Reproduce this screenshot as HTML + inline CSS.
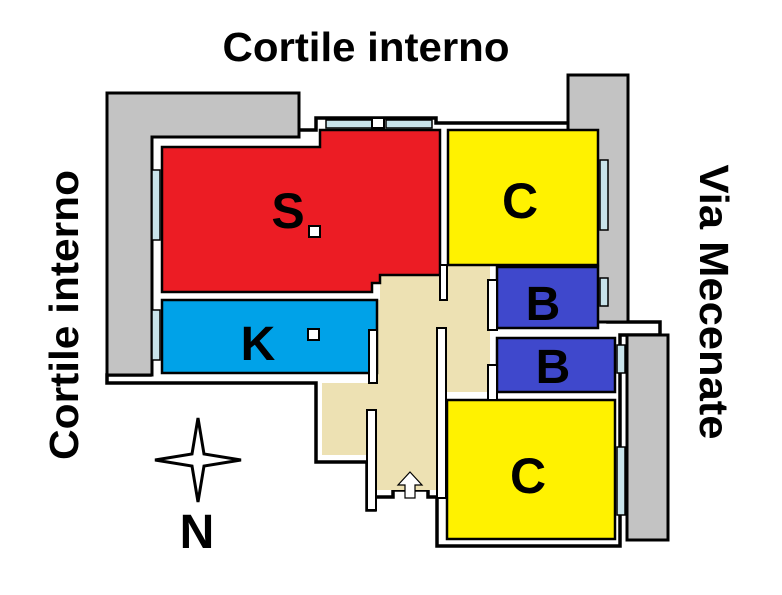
<!DOCTYPE html>
<html><head><style>
body{margin:0;background:#fff}
svg{display:block}
text{font-family:"Liberation Sans",sans-serif;font-weight:bold;fill:#000}
</style></head><body>
<svg width="782" height="595" viewBox="0 0 782 595" xmlns="http://www.w3.org/2000/svg">
<rect width="782" height="595" fill="#fff"/>
<polygon points="150,130 316,130 316,118 436,118 436,123 608,123 608,322 660,322 660,335 620,335 620,546 437,546 437,497 428,497 428,490 393,490 393,497 375,497 375,510 367,510 367,462 316,462 316,383 107,383 107,375 150,375" fill="#fff" stroke="#000" stroke-width="3.5"/>
<path d="M107,93 H299 V137 H152 V375 H107 Z" fill="#c3c3c3" stroke="#000" stroke-width="3"/>
<rect x="568" y="75" width="60" height="247" fill="#c3c3c3" stroke="#000" stroke-width="3"/>
<rect x="627" y="335" width="41" height="205" fill="#c3c3c3" stroke="#000" stroke-width="3"/>
<polygon points="380,275 440,275 440,265 490,265 490,392 437,392 437,490 377,490 377,455 322,455 322,383 377,383 377,300 380,300" fill="#ede1b3"/>
<polygon points="162,147 320,147 320,130 440,130 440,275 380,275 380,283 372,283 372,292 162,292" fill="#ec1c24" stroke="#000" stroke-width="2.5"/>
<rect x="162" y="300" width="215" height="73" fill="#00a2e8" stroke="#000" stroke-width="2.5"/>
<rect x="448" y="130" width="150" height="135" fill="#fff200" stroke="#000" stroke-width="2.5"/>
<rect x="497" y="267" width="101" height="61" fill="#3f48cc" stroke="#000" stroke-width="2.5"/>
<rect x="497" y="338" width="118" height="54" fill="#3f48cc" stroke="#000" stroke-width="2.5"/>
<rect x="447" y="400" width="168" height="139" fill="#fff200" stroke="#000" stroke-width="2.5"/>
<rect x="440" y="265" width="7" height="35" fill="#fff" stroke="#000" stroke-width="2"/>
<rect x="437" y="328" width="9" height="170" fill="#fff" stroke="#000" stroke-width="2"/>
<rect x="367" y="410" width="9" height="100" fill="#fff" stroke="#000" stroke-width="2"/>
<rect x="369" y="330" width="8" height="53" fill="#fff" stroke="#000" stroke-width="2"/>
<rect x="488" y="280" width="9" height="50" fill="#fff" stroke="#000" stroke-width="2"/>
<rect x="488" y="365" width="9" height="35" fill="#fff" stroke="#000" stroke-width="2"/>
<g fill="#c8e3ea" stroke="#000" stroke-width="1.5">
<rect x="152" y="170" width="8" height="70"/>
<rect x="152" y="310" width="8" height="50"/>
<rect x="326" y="120" width="46" height="8"/>
<rect x="386" y="120" width="46" height="8"/>
<rect x="600" y="160" width="8" height="70"/>
<rect x="600" y="278" width="8" height="28"/>
<rect x="617" y="345" width="8" height="28"/>
<rect x="617" y="447" width="8" height="68"/>
</g>
<rect x="372" y="118" width="12" height="10" fill="#fff" stroke="#000" stroke-width="2"/>
<rect x="309" y="226" width="11" height="11" fill="#fff" stroke="#000" stroke-width="2"/>
<rect x="308" y="329" width="11" height="11" fill="#fff" stroke="#000" stroke-width="2"/>
<polygon points="410,472 422,485 415,485 415,498 405,498 405,485 398,485" fill="#fff" stroke="#000" stroke-width="1.2"/>
<polygon points="198,418 204,454 241,460 204,466 198,502 192,466 155,460 192,454" fill="#fff" stroke="#000" stroke-width="3"/>
<text x="366" y="61" font-size="41" text-anchor="middle" textLength="287" lengthAdjust="spacingAndGlyphs">Cortile interno</text>
<text transform="translate(78,315) rotate(-90)" font-size="41" text-anchor="middle" textLength="290" lengthAdjust="spacingAndGlyphs">Cortile interno</text>
<text transform="translate(700,302) rotate(90)" font-size="41" text-anchor="middle" textLength="275" lengthAdjust="spacingAndGlyphs">Via Mecenate</text>
<text x="288" y="228" font-size="50" text-anchor="middle">S</text>
<text x="258" y="360" font-size="48" text-anchor="middle">K</text>
<text x="520" y="218" font-size="50" text-anchor="middle">C</text>
<text x="543" y="320" font-size="48" text-anchor="middle">B</text>
<text x="553" y="383" font-size="48" text-anchor="middle">B</text>
<text x="528" y="493" font-size="50" text-anchor="middle">C</text>
<text x="197" y="548" font-size="48" text-anchor="middle">N</text>
</svg>
</body></html>
